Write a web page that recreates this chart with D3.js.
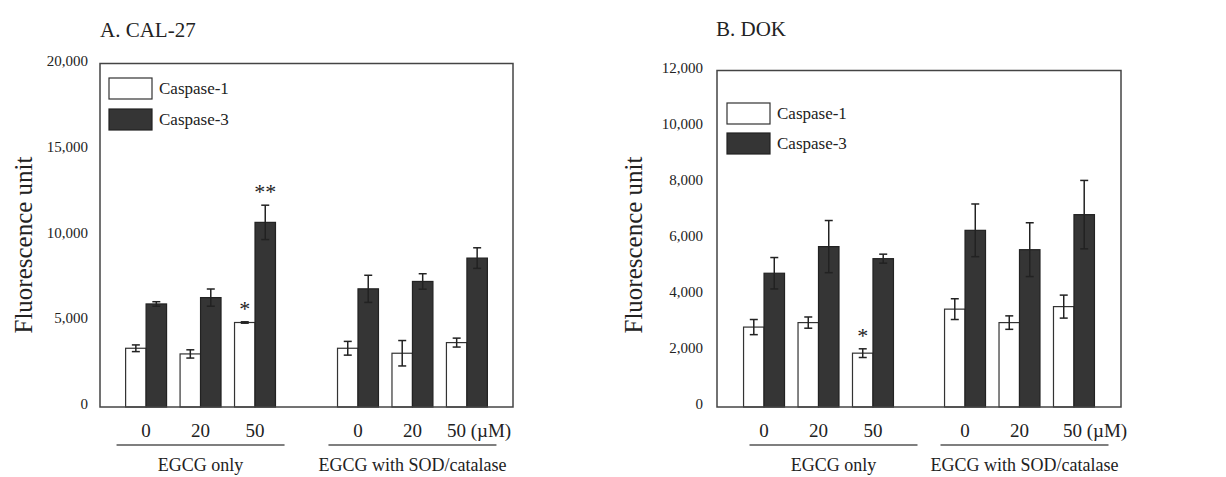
<!DOCTYPE html>
<html>
<head>
<meta charset="utf-8">
<script src="https://cdn.jsdelivr.net/npm/d3@7"></script>
<style>
  body { margin: 0; background: #fff; }
  svg { display: block; font-family: "Liberation Serif", "Times New Roman", serif; }
  svg text { font-family: "Liberation Serif", "Times New Roman", serif; }
</style>
</head>
<body>
<div id="chart"></div>
<script>
const doses = ["0", "20", "50"];
const treatments = ["EGCG only", "EGCG with SOD/catalase"];
const seriesNames = ["Caspase-1", "Caspase-3"];

// A. CAL-27
const calCasp1 = [3420, 3090, 4920, 3420, 3130, 3750];
const calCasp1Err = [195, 240, 40, 400, 740, 260];
const calCasp3 = [6000, 6370, 10750, 6880, 7310, 8670];
const calCasp3Err = [130, 500, 1000, 790, 450, 600];
const calCasp1Sig = ["", "", "*", "", "", ""];
const calCasp3Sig = ["", "", "**", "", "", ""];
const calTicks = [0, 5000, 10000, 15000, 20000];

// B. DOK
const dokCasp1 = [2850, 3010, 1920, 3490, 3010, 3580];
const dokCasp1Err = [270, 200, 155, 370, 240, 410];
const dokCasp3 = [4770, 5720, 5290, 6300, 5610, 6860];
const dokCasp3Err = [560, 930, 160, 940, 960, 1220];
const dokCasp1Sig = ["", "", "*", "", "", ""];
const dokCasp3Sig = ["", "", "", "", "", ""];
const dokTicks = [0, 2000, 4000, 6000, 8000, 10000, 12000];

const width = 1226, height = 477;
const svg = d3.select("#chart").append("svg")
    .attr("width", width)
    .attr("height", height);

svg.append("rect").attr("width", width).attr("height", height).attr("fill", "#fff");

const panels = [
  {
    title: "A. CAL-27", titleX: 100, titleY: 37,
    left: 100, right: 513, top: 63.5, bottom: 407,
    padIn: 0.229, padOut: 0.089,
    ticks: calTicks, tickPad: 12,
    yTitleX: 32,
    legendX: 109, legendY: 78, legendStep: 31,
    lineShift: [0, 0], unitShift: -20,
    series: [
      {values: calCasp1, err: calCasp1Err, sig: calCasp1Sig},
      {values: calCasp3, err: calCasp3Err, sig: calCasp3Sig}
    ]
  },
  {
    title: "B. DOK", titleX: 716, titleY: 36,
    left: 717, right: 1121, top: 70.5, bottom: 407,
    padIn: 0.187, padOut: 0.0985,
    ticks: dokTicks, tickPad: 14,
    yTitleX: 642,
    legendX: 727, legendY: 103, legendStep: 30,
    lineShift: [15, 5], unitShift: -11,
    series: [
      {values: dokCasp1, err: dokCasp1Err, sig: dokCasp1Sig},
      {values: dokCasp3, err: dokCasp3Err, sig: dokCasp3Sig}
    ]
  }
];

const fills = ["#ffffff", "#353535"];
const strokes = ["#333", "#222"];

panels.forEach(drawPanel);

function drawPanel(p) {
  let g = svg.append("g");

  let x0 = d3.scaleBand()
      .domain(treatments)
      .range([p.left, p.right])
      .paddingInner(p.padIn)
      .paddingOuter(p.padOut);

  let x1 = d3.scaleBand()
      .domain(doses)
      .range([0, x0.bandwidth()])
      .paddingInner(0.248)
      .paddingOuter(0.124);

  let x2 = d3.scaleBand()
      .domain(seriesNames)
      .range([0, x1.bandwidth()]);

  let y = d3.scaleLinear()
      .domain([0, d3.max(p.ticks)])
      .range([p.bottom, p.top]);

  // rows: treatment x dose
  let rows = [];
  treatments.forEach((t, ti) => {
    doses.forEach((d, di) => {
      rows.push({t: t, d: d, i: ti * doses.length + di});
    });
  });

  // y axis labels (no ticks)
  let yAxis = d3.axisLeft(y)
      .tickValues(p.ticks)
      .tickFormat(d3.format(","))
      .tickSize(0)
      .tickPadding(p.tickPad);

  let ax = g.append("g")
      .attr("transform", `translate(${p.left},0)`)
      .call(yAxis)
      .attr("font-family", null)
      .attr("font-size", 15);
  ax.select(".domain").remove();
  ax.selectAll("text")
      .attr("dy", "0.12em")
      .attr("fill", "#222");

  // bars
  p.series.forEach((s, si) => {
    let name = seriesNames[si];
    let bx = r => x0(r.t) + x1(r.d) + x2(name);

    g.selectAll(".bar" + si)
      .data(rows)
      .enter().append("rect")
        .attr("x", bx)
        .attr("y", r => y(s.values[r.i]))
        .attr("width", x2.bandwidth())
        .attr("height", r => p.bottom - y(s.values[r.i]))
        .attr("fill", fills[si])
        .attr("stroke", strokes[si])
        .attr("stroke-width", 1.2);

    let cx = r => bx(r) + x2.bandwidth() / 2;

    let eb = g.selectAll(".err" + si)
      .data(rows)
      .enter().append("g")
        .attr("stroke", "#222")
        .attr("stroke-width", 1.5);
    eb.append("line")
        .attr("x1", cx).attr("x2", cx)
        .attr("y1", r => y(s.values[r.i] - s.err[r.i]))
        .attr("y2", r => y(s.values[r.i] + s.err[r.i]));
    eb.append("line")
        .attr("x1", r => cx(r) - 4).attr("x2", r => cx(r) + 4)
        .attr("y1", r => y(s.values[r.i] + s.err[r.i]))
        .attr("y2", r => y(s.values[r.i] + s.err[r.i]));
    eb.append("line")
        .attr("x1", r => cx(r) - 4).attr("x2", r => cx(r) + 4)
        .attr("y1", r => y(s.values[r.i] - s.err[r.i]))
        .attr("y2", r => y(s.values[r.i] - s.err[r.i]));

    // significance marks
    g.selectAll(".sig" + si)
      .data(rows.filter(r => s.sig[r.i]))
      .enter().append("text")
        .attr("x", cx)
        .attr("y", r => y(s.values[r.i] + s.err[r.i]) - 6)
        .attr("text-anchor", "middle")
        .style("font-size", "22px")
        .attr("fill", "#222")
        .text(r => s.sig[r.i]);
  });

  // frame
  g.append("rect")
      .attr("x", p.left)
      .attr("y", p.top)
      .attr("width", p.right - p.left)
      .attr("height", p.bottom - p.top)
      .attr("fill", "none")
      .attr("stroke", "#444")
      .attr("stroke-width", 1.5);

  // legend
  seriesNames.forEach((name, si) => {
    let ly = p.legendY + si * p.legendStep;
    g.append("rect")
        .attr("x", p.legendX)
        .attr("y", ly)
        .attr("width", 43)
        .attr("height", 21)
        .attr("fill", fills[si])
        .attr("stroke", strokes[si])
        .attr("stroke-width", 1.2);
    g.append("text")
        .attr("x", p.legendX + 50)
        .attr("y", ly + 16)
        .style("font-size", "17px")
        .attr("fill", "#222")
        .text(name);
  });

  // dose labels
  g.selectAll(".dose")
    .data(rows)
    .enter().append("text")
      .attr("x", r => x0(r.t) + x1(r.d) + x1.bandwidth() / 2 + (r.i === rows.length - 1 ? p.unitShift : 0))
      .attr("y", 437)
      .attr("text-anchor", r => r.i === rows.length - 1 ? "start" : "middle")
      .style("font-size", "19px")
      .attr("fill", "#222")
      .text(r => r.i === rows.length - 1 ? r.d + " (\u00b5M)" : r.d);

  // group underlines + labels
  treatments.forEach((t, ti) => {
    let c = x0(t) + x0.bandwidth() / 2 + p.lineShift[ti];
    g.append("line")
        .attr("x1", c - 84).attr("x2", c + 84)
        .attr("y1", 445).attr("y2", 445)
        .attr("stroke", "#555")
        .attr("stroke-width", 1.5);
    g.append("text")
        .attr("x", c)
        .attr("y", 471)
        .attr("text-anchor", "middle")
        .style("font-size", "18px")
        .attr("fill", "#222")
        .text(t);
  });

  // titles
  g.append("text")
      .attr("x", p.titleX)
      .attr("y", p.titleY)
      .style("font-size", "21px")
      .attr("fill", "#222")
      .text(p.title);

  g.append("text")
      .attr("transform", `translate(${p.yTitleX},245) rotate(-90)`)
      .attr("text-anchor", "middle")
      .style("font-size", "25px")
      .attr("fill", "#222")
      .text("Fluorescence unit");
}
</script>
</body>
</html>
